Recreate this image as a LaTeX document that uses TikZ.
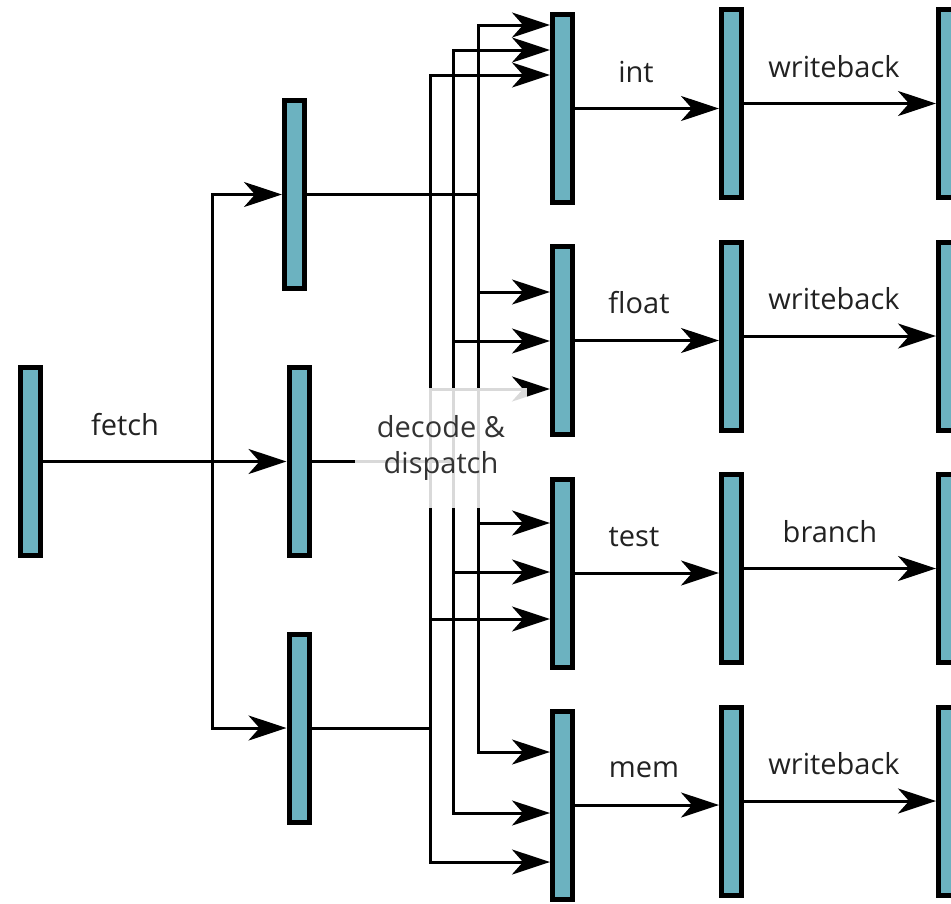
\documentclass[tikz,border=0pt]{standalone}
\usepackage{fontspec}
\setmainfont{Open Sans}
\usetikzlibrary{arrows.meta}

\begin{document}
\begin{tikzpicture}[x=1pt,y=-1pt,line cap=rect,
    stage/.style={draw=black, line width=5pt, fill=custcol_6c_b2_c0, minimum width=20pt, minimum height=188pt, inner sep=0pt},
    wire/.style={line width=3pt, black},
    flow/.style={wire, -{Stealth[length=38pt,width=25pt,inset=11pt]}},
    lbl/.style={inner sep=0pt, text=custcol_22_22_22, font=\fontsize{29pt}{36pt}\selectfont}]
						\definecolor{custcol_6c_b2_c0}{RGB}{108, 178, 192}
						\definecolor{custcol_22_22_22}{RGB}{34, 34, 34}
						\definecolor{custcol_33_33_33}{RGB}{51, 51, 51}
						\useasboundingbox (0,0) rectangle (951,903);
						\clip (0,0) rectangle (951,903);
						% pipeline registers
						\node[stage] (fetchbar) at (30.5,461.5) {};
						\node[stage] (dectop) at (294.5,194.5) {};
						\node[stage] (decmid) at (299,461.5) {};
						\node[stage] (decbot) at (299,728) {};
						\node[stage] (exint) at (562.5,108.5) {};
						\node[stage] (exfloat) at (562.5,340.5) {};
						\node[stage] (extest) at (562.5,573) {};
						\node[stage] (exmem) at (562.5,805) {};
						\node[stage] (wbint) at (731.5,103.5) {};
						\node[stage] (wbfloat) at (731.5,336) {};
						\node[stage] (wbtest) at (731.5,568.5) {};
						\node[stage] (wbmem) at (731.5,801) {};
						\node[stage] (outint) at (948.5,103.5) {};
						\node[stage] (outfloat) at (948.5,336) {};
						\node[stage] (outtest) at (948.5,568.5) {};
						\node[stage] (outmem) at (948.5,801) {};
						% fetch
						\coordinate (split) at (212,461.5);
						\draw[flow] (fetchbar.east) -- (decmid.west);
						\draw[flow] (split) |- (dectop.west);
						\draw[flow] (split) |- (decbot.west);
						% dispatch buses
						\coordinate (busA) at (478,25);
						\coordinate (busB) at (453,50);
						\coordinate (busC) at (430,75);
						\draw[wire] (dectop.east) -- (busA |- dectop.east);
						\draw[wire] (decmid.east) -- (busB |- decmid.east);
						\draw[wire] (decbot.east) -- (busC |- decbot.east);
						\draw[wire] (busA) -- (busA |- 0,752);
						\draw[wire] (busB) -- (busB |- 0,813);
						\draw[wire] (busC) -- (busC |- 0,862);
						\foreach \bar/\ya/\yb/\yc in {exint/25/50/75, exfloat/292/341/389, extest/523/572/619, exmem/752/813/862}{
							\draw[flow] (busA |- 0,\ya) -- (\bar.west |- 0,\ya);
							\draw[flow] (busB |- 0,\yb) -- (\bar.west |- 0,\yb);
							\draw[flow] (busC |- 0,\yc) -- (\bar.west |- 0,\yc);
						}
						% execute and writeback
						\foreach \ex/\wb/\out in {exint/wbint/outint, exfloat/wbfloat/outfloat, extest/wbtest/outtest, exmem/wbmem/outmem}{
							\draw[flow] (\ex.east) -- (\ex.east -| \wb.west);
							\draw[flow] (\wb.east) -- (\wb.east -| \out.west);
						}
						\node[lbl, fill=white, fill opacity=0.85, text opacity=1, text=custcol_33_33_33, minimum width=172pt, minimum height=120pt, align=center] (dispatch) at (441,448) {decode \&\\dispatch};
						\node[lbl] (fetchlbl) at (125,425) {fetch};
						\node[lbl] (intlbl) at (636,72) {int};
						\node[lbl] (floatlbl) at (639,303) {float};
						\node[lbl] (testlbl) at (634,537) {test};
						\node[lbl] (memlbl) at (644,770) {mem};
						\node[lbl] (wbintlbl) at (834,67) {writeback};
						\node[lbl] (wbfloatlbl) at (834,299) {writeback};
						\node[lbl] (branchlbl) at (830,532) {branch};
						\node[lbl] (wbmemlbl) at (834,764) {writeback};
					\end{tikzpicture}
\end{document}
